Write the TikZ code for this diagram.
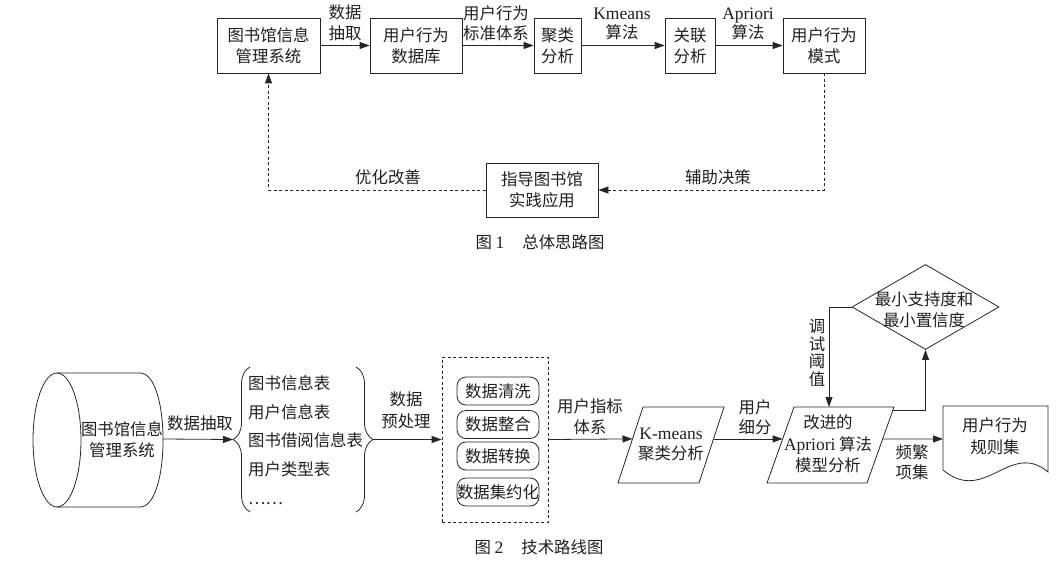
\documentclass[tikz,border=0pt]{standalone}
\usepackage{fontspec}
\setmainfont{Liberation Serif}
\newfontfamily\cjk{Noto Sans CJK SC}
\newcommand\latw[1]{{\rmfamily\fontsize{17.5}{21}\selectfont #1}}
\usetikzlibrary{arrows.meta,calc,decorations.pathreplacing,shapes.geometric}
\begin{document}
\begin{tikzpicture}[x=1pt,y=-1pt,
  every node/.style={font=\cjk\fontsize{16.4}{21}\selectfont, inner sep=0pt, text=black!88},
  ln/.style={line width=0.8pt, draw=black!85},
  arr/.style={ln, -{Triangle[length=10pt,width=7pt]}},
  darr/.style={ln, dash pattern=on 3pt off 2.5pt, -{Triangle[length=10pt,width=7pt]}},
  box/.style={ln, draw, align=center, minimum height=55pt},
  rbox/.style={ln, draw, rounded corners=9pt, minimum width=82pt, minimum height=28pt},
  lbl/.style={align=center},
]
\useasboundingbox (0,0) rectangle (1059,567);

% ---------------- Figure 1 ----------------
\node[box, minimum width=103pt] (A) at (268.5,45.5) {图书馆信息\\管理系统};
\node[box, minimum width=92pt]  (B) at (416,45.5) {用户行为\\数据库};
\node[box, minimum width=47pt]  (C) at (557.5,45.5) {聚类\\分析};
\node[box, minimum width=50pt]  (D) at (690,45.5) {关联\\分析};
\node[box, minimum width=82pt]  (E) at (824,45.5) {用户行为\\模式};
\node[box, minimum width=112pt, minimum height=54pt] (F) at (542,190) {指导图书馆\\实践应用};

\draw[arr] (A) -- (B);
\draw[arr] (B) -- (C);
\draw[arr] (C) -- (D);
\draw[arr] (D) -- (E);
\draw[darr] (E.south) |- (F.east);
\draw[darr] (F.west) -| (A.south);

\node[lbl] (l1) at (345,22.5) {数据\\抽取};
\node[lbl, font=\cjk\fontsize{16.4}{20}\selectfont] (l2) at (496,23) {用户行为\\标准体系};
\node[lbl, font=\cjk\fontsize{16.4}{18.5}\selectfont] (l3) at (622,24) {\latw{Kmeans}\\算法};
\node[lbl, font=\cjk\fontsize{16.4}{18.5}\selectfont] (l4) at (748,24) {\latw{Apriori}\\算法};
\node (l5) at (388,177) {优化改善};
\node (l6) at (718,177) {辅助决策};
\node (cap1) at (540,242) {图 \latw{1}\hspace{1.1em}总体思路图};

% ---------------- Figure 2 ----------------
% cylinder
\draw[ln] (57,440) ellipse [x radius=24, y radius=67];
\draw[ln] (57,373) -- (140,373) .. controls (170.7,373) and (170.7,507) .. (140,507) -- (57,507);
\node[lbl] (cyl) at (122,440) {图书馆信息\\管理系统};
\coordinate (cylE) at (163,439);

% braces and tables
\draw[ln, decorate, decoration={brace, amplitude=17pt, aspect=0.5}] (250,512) -- (250,367);
\draw[ln, decorate, decoration={brace, amplitude=17pt, aspect=0.5}] (356,367) -- (356,512);
\coordinate (brL) at (233,439.5);
\coordinate (brR) at (373,439.5);
\node[anchor=west, align=left, font=\cjk\fontsize{16.4}{28.8}\selectfont] (tbl) at (248,440)
  {图书信息表\\用户信息表\\图书借阅信息表\\用户类型表\\……};

% preprocessing
\node[ln, draw, dash pattern=on 3pt off 2.5pt, minimum width=106pt, minimum height=165pt] (pre) at (495,439.5) {};
\node[rbox] (c1) at (498,391) {数据清洗};
\node[rbox] (c2) at (498,424.5) {数据整合};
\node[rbox] (c3) at (498,456) {数据转换};
\node[rbox] (c4) at (498,492) {数据集约化};

% K-means parallelogram
\coordinate (k1) at (643,407);
\coordinate (k2) at (724,407);
\coordinate (k3) at (699,483);
\coordinate (k4) at (618,483);
\draw[ln] (k1) -- (k2) -- (k3) -- (k4) -- cycle;
\node[lbl, font=\cjk\fontsize{16.4}{20}\selectfont] (km) at (671,445) {\latw{K-means}\\聚类分析};

% Apriori parallelogram
\coordinate (a1) at (794,407);
\coordinate (a2) at (894,407);
\coordinate (a3) at (867,483);
\coordinate (a4) at (767,483);
\draw[ln] (a1) -- (a2) -- (a3) -- (a4) -- cycle;
\node[lbl, font=\cjk\fontsize{16.4}{21.5}\selectfont] (ap) at (828,444) {改进的\\\latw{Apriori} 算法\\模型分析};

% diamond
\node[ln, draw, diamond, minimum width=147pt, minimum height=85pt] (dia) at (925.5,307) {};
\node[lbl] (diat) at (924,310) {最小支持度和\\最小置信度};

% document
\draw[ln] (943,406) -- (1048,406) -- (1048,472) .. controls (1010,440) and (985,505) .. (943,470) -- cycle;
\node[lbl, font=\cjk\fontsize{16.4}{22}\selectfont] (doc) at (995,436) {用户行为\\规则集};
\coordinate (docW) at (943,439);

% connectors
\draw[arr] (cylE) -- (brL);
\draw[arr] (brR) -- (pre.west);
\draw[arr] (pre.east) -- ($(k1)!0.42!(k4)$);
\draw[arr] ($(k2)!0.42!(k3)$) -- ($(a1)!0.42!(a4)$);
\draw[arr] ($(a2)!0.42!(a3)$) -- (docW);
\draw[arr] (dia.west) -| ($(a1)!0.35!(a2)$);
\draw[arr] ($(a2)!0.04!(a3)$) -| (dia.south);

% labels
\node (m1) at (200,423) {数据抽取};
\node[lbl, font=\cjk\fontsize{16.4}{22}\selectfont] (m2) at (406,410) {数据\\预处理};
\node[lbl] (m3) at (590,416.5) {用户指标\\体系};
\node[lbl, font=\cjk\fontsize{16.4}{20}\selectfont] (m4) at (755,417) {用户\\细分};
\node[lbl, font=\cjk\fontsize{16.4}{17.5}\selectfont] (m5) at (817,353) {调\\试\\阈\\值};
\node[lbl, font=\cjk\fontsize{16.4}{20}\selectfont] (m6) at (912,462) {频繁\\项集};
\node (cap2) at (539,547) {图 \latw{2}\hspace{1.1em}技术路线图};
\end{tikzpicture}
\end{document}
